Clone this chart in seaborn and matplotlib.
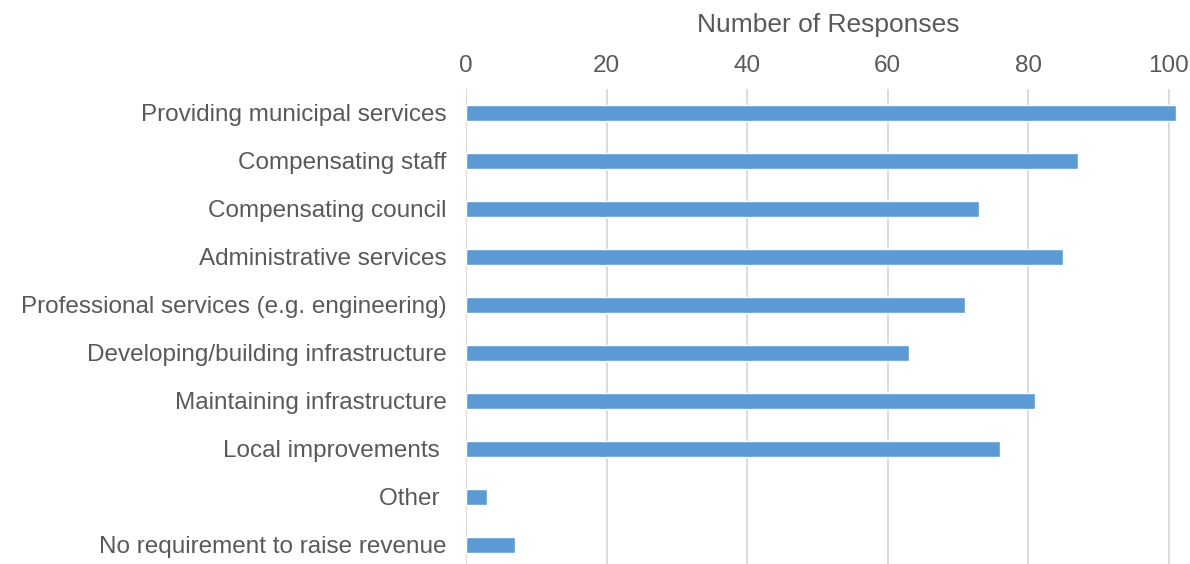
import matplotlib
matplotlib.use("Agg")
import matplotlib.pyplot as plt
import seaborn as sns
import pandas as pd

# Survey responses: uses of municipal revenue
categories = [
    "Providing municipal services",
    "Compensating staff",
    "Compensating council",
    "Administrative services",
    "Professional services (e.g. engineering)",
    "Developing/building infrastructure",
    "Maintaining infrastructure",
    "Local improvements ",
    "Other ",
    "No requirement to raise revenue",
]
responses = [101, 87, 73, 85, 71, 63, 81, 76, 3, 7]
x_ticks = [0, 20, 40, 60, 80, 100]
x_title = "Number of Responses"

df = pd.DataFrame({"category": categories, "responses": responses})

sns.set_theme(style="white")
text_color = "#595959"
plt.rcParams["font.family"] = ["Liberation Sans", "DejaVu Sans"]

fig = plt.figure(figsize=(11.9, 5.64), dpi=100)
W, H = 1190, 564
ax = fig.add_axes([466 / W, 0, (W - 466) / W, (H - 89) / H])

sns.barplot(data=df, x="responses", y="category", orient="h",
            color="#5B9BD5", saturation=1, width=0.333, ax=ax, zorder=3)

ax.set_xlim(0, 103.0)
ax.set_ylim(9.396, -0.5)
ax.set_xticks(x_ticks)
ax.xaxis.tick_top()
ax.xaxis.set_label_position("top")
ax.set_xlabel(x_title, fontsize=19, color=text_color, labelpad=16)
ax.set_ylabel("")

ax.grid(axis="x", color="#D9D9D9", linewidth=1.3, zorder=0)
ax.grid(axis="y", visible=False)
for s in ax.spines.values():
    s.set_visible(False)

ax.tick_params(axis="x", length=0, pad=9, labelsize=17.5, labelcolor=text_color)
ax.tick_params(axis="y", length=0, pad=14, labelsize=17.5, labelcolor=text_color)

fig.savefig("out.png", dpi=100)
